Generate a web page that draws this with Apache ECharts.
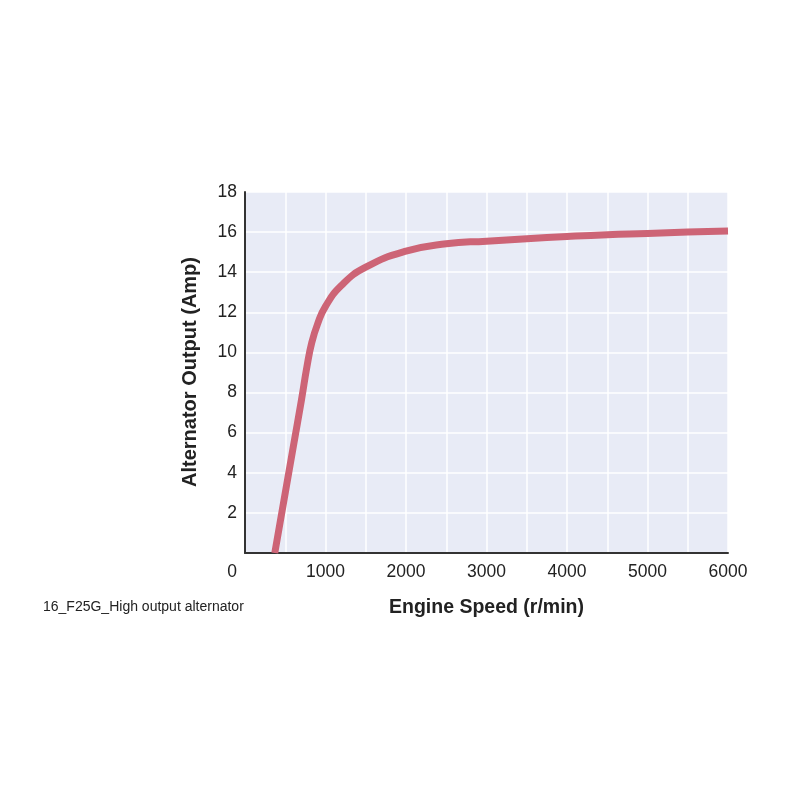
<!DOCTYPE html>
<html><head><meta charset="utf-8">
<script src="https://cdn.jsdelivr.net/npm/echarts@6/dist/echarts.min.js"></script>
<style>html,body{margin:0;padding:0;background:#fff}#c{width:800px;height:800px}</style>
</head><body><div id="c"></div>
<script>
const speeds = [370, 500, 600, 700, 770, 830, 900, 1000, 1200, 1500, 2000, 2500, 3000, 3500, 4000, 4500, 5000, 5500, 6000];
const amps   = [0, 3.0, 5.3, 7.6, 9.3, 10.5, 11.4, 12.3, 13.35, 14.25, 15.05, 15.42, 15.55, 15.67, 15.78, 15.87, 15.93, 16.0, 16.05];
const xTitle = 'Engine Speed (r/min)';
const yTitle = 'Alternator Output (Amp)';
const caption = '16_F25G_High output alternator';
const FONT = '"Liberation Sans Narrow", "Liberation Sans", Arial, sans-serif';

const chart = echarts.init(document.getElementById('c'));
chart.setOption({
  backgroundColor: '#fff',
  animation: false,
  grid: { left: 245, top: 192, right: 72, bottom: 247, show: true, backgroundColor: '#e8ebf6', borderWidth: 0 },
  graphic: [
    { type: 'text', left: 43, top: 600, style: { text: caption, font: '14px ' + FONT, fill: '#222' } },
    { type: 'text', x: 190, y: 372, rotation: Math.PI / 2, style: { text: yTitle, font: 'bold 20px ' + FONT, fill: '#222', textAlign: 'center', textVerticalAlign: 'middle' } }
  ],
  xAxis: {
    type: 'value', min: 0, max: 6000, interval: 500,
    name: xTitle, nameLocation: 'middle', nameGap: 45,
    nameTextStyle: { fontFamily: FONT, fontWeight: 'bold', fontSize: 19.5, color: '#222' },
    axisLine: { show: true, lineStyle: { color: '#333', width: 2 } },
    axisTick: { show: false },
    splitLine: { show: true, lineStyle: { color: '#ffffff', width: 1.5 } },
    axisLabel: {
      fontFamily: FONT, fontSize: 17.5, color: '#222', margin: 10, showMinLabel: true, showMaxLabel: true,
      formatter: v => v === 0 ? '{z|0}' : (v % 1000 === 0 ? String(v) : ''),
      rich: { z: { fontFamily: FONT, fontSize: 17.5, color: '#222', padding: [0, 26, 0, 0] } }
    }
  },
  yAxis: {
    type: 'value', min: 0, max: 18, interval: 2,
    axisLine: { show: true, lineStyle: { color: '#333', width: 2 } },
    axisTick: { show: false },
    splitLine: { show: true, lineStyle: { color: '#ffffff', width: 1.5 } },
    axisLabel: { fontFamily: FONT, fontSize: 17.5, color: '#222', margin: 8, formatter: v => v === 0 ? '' : String(v) }
  },
  series: [{
    type: 'line', data: speeds.map((s, i) => [s, amps[i]]),
    smooth: 0.5, showSymbol: false, clip: true,
    lineStyle: { color: '#cd6476', width: 7, cap: 'butt', join: 'round' }
  }]
});
</script></body></html>
